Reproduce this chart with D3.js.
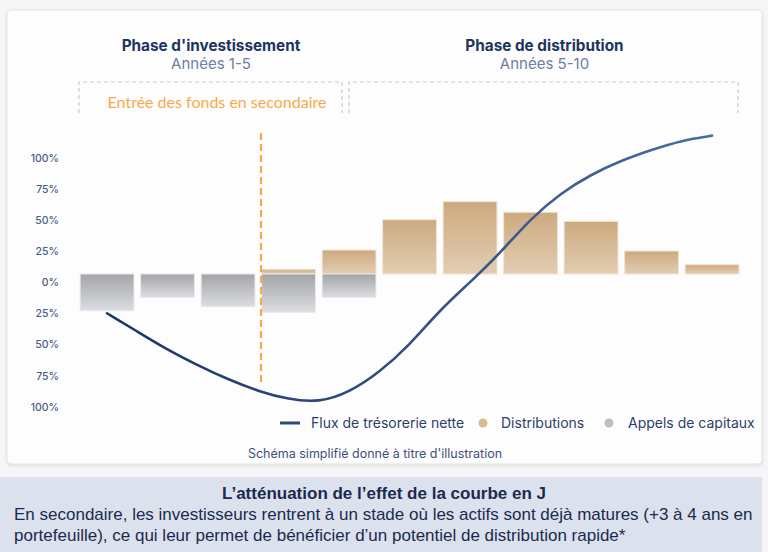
<!DOCTYPE html>
<html><head><meta charset="utf-8">
<script src="https://cdn.jsdelivr.net/npm/d3@7"></script>
<style>
html,body{margin:0;padding:0;background:#f6f6f8;}
svg{display:block;}
</style></head>
<body>
<svg id="chart" width="768" height="552"></svg>
<script>
// ---- data ----
const periods = ["1","2","3","4","5","6","7","8","9","10","11"];
const capitalCalls = [-29.5, -18.8, -26.3, -30.8, -18.8, 0, 0, 0, 0, 0, 0];
const distributions = [0, 0, 0, 3.8, 19.3, 43.7, 58.2, 49.7, 42.4, 18.5, 7.5];
const lineX = [0,0.5,1,1.5,2,2.5,3,3.5,4,4.5,5,5.5,6,6.5,7,7.5,8,8.5,9,9.5,10];
const lineValues = [-31.6,-46.3,-61.0,-73.5,-84.9,-94.4,-101.0,-103.5,-95.4,-79.3,-57.2,-29.0,-6.8,16.9,44.6,65.2,80.1,91.4,100.0,107.6,111.4];
const yTicks = [100,75,50,25,0,-25,-50,-75,-100];
const phases = [
  {title:"Phase d'investissement", years:"Années 1-5"},
  {title:"Phase de distribution", years:"Années 5-10"}
];
const secondaryLabel = "Entrée des fonds en secondaire";
const legendItems = ["Flux de trésorerie nette","Distributions","Appels de capitaux"];
const footnote = "Schéma simplifié donné à titre d'illustration";
const bandTitle = "L’atténuation de l’effet de la courbe en J";
const bandLines = ["En secondaire, les investisseurs rentrent à un stade où les actifs sont déjà matures (+3 à 4 ans en",
                   "portefeuille), ce qui leur permet de bénéficier d’un potentiel de distribution rapide*"];

// ---- setup ----
const svg = d3.select("#chart");
const defs = svg.append("defs");
const sh = defs.append("filter").attr("id","shadow").attr("x","-5%").attr("y","-5%").attr("width","110%").attr("height","110%");
sh.append("feDropShadow").attr("dx",0).attr("dy",1).attr("stdDeviation",1.5).attr("flood-color","#000").attr("flood-opacity",0.12);

function vGrad(id, c1, c2){
  const g = defs.append("linearGradient").attr("id",id).attr("x1",0).attr("y1",0).attr("x2",0).attr("y2",1);
  g.append("stop").attr("offset","0%").attr("stop-color",c1);
  g.append("stop").attr("offset","100%").attr("stop-color",c2);
}
vGrad("gTan","#ccaa7f","#e3cdb2");
vGrad("gGrey","#a3a4a5","#dcdde2");
const lg = defs.append("linearGradient").attr("id","gLine").attr("x1",0).attr("y1",0).attr("x2",1).attr("y2",0);
lg.append("stop").attr("offset","0%").attr("stop-color","#1c3567");
lg.append("stop").attr("offset","100%").attr("stop-color","#4a6c9e");

// card
svg.append("rect").attr("x",7).attr("y",10).attr("width",755).attr("height",454)
  .attr("rx",4).attr("fill","#fdfdfd").attr("stroke","#e2e3e6").attr("stroke-width",1)
  .attr("filter","url(#shadow)");

// bottom band
svg.append("rect").attr("x",0).attr("y",477).attr("width",762).attr("height",75).attr("fill","#dce2ed");

// scales
const x = d3.scaleBand().domain(periods).range([76.8, 742.3]).paddingInner(0.11).paddingOuter(0.055);
const y = d3.scaleLinear().domain([-100,100]).range([398.2,149.8]);
const xl = d3.scaleLinear().domain([0,10])
  .range([x(periods[0]) + x.bandwidth()/2, x(periods[10]) + x.bandwidth()/2]);

// y axis
const yAxis = d3.axisLeft(y).tickValues(yTicks).tickSize(0).tickPadding(0)
  .tickFormat(d => Math.abs(d) + "%");
const ga = svg.append("g").attr("transform","translate(59,8.5)").call(yAxis);
ga.select(".domain").remove();
ga.selectAll("text").attr("font-family","Inter, 'Noto Sans', sans-serif")
  .attr("font-size",10.5).attr("font-weight",500).attr("fill","#4a5c85");

// phase headings
const phaseX = [211, 544.5];
phases.forEach((p,i)=>{
  svg.append("text").attr("x",phaseX[i]).attr("y",51).attr("text-anchor","middle")
    .attr("font-family","Inter, sans-serif").attr("font-weight",700).attr("font-size",15.3)
    .attr("fill","#1e3461").text(p.title);
  svg.append("text").attr("x",phaseX[i]).attr("y",68.5).attr("text-anchor","middle")
    .attr("font-family","Inter, sans-serif").attr("font-weight",400).attr("font-size",15)
    .attr("fill","#6c7fa3").text(p.years);
});

// dashed brackets
[[79,342],[349,738]].forEach(([a,b])=>{
  svg.append("path").attr("d",`M${a},113V82H${b}V113`).attr("fill","none")
    .attr("stroke","#c5cddb").attr("stroke-width",1.2).attr("stroke-dasharray","4,3");
});
svg.append("text").attr("x",217).attr("y",108).attr("text-anchor","middle")
  .attr("font-family","Lato, 'Open Sans', sans-serif").attr("font-size",16)
  .attr("fill","#f9a94b").text(secondaryLabel);

// bars
const distData = periods.map((p,i)=>({p, v:distributions[i]})).filter(d=>d.v>0);
const callData = periods.map((p,i)=>({p, v:capitalCalls[i]})).filter(d=>d.v<0);
const bars = svg.append("g");
bars.selectAll("rect.dist").data(distData).join("rect").attr("class","dist")
  .attr("x",d=>x(d.p)).attr("y",d=>y(d.v)).attr("width",x.bandwidth())
  .attr("height",d=>y(0)-y(d.v))
  .attr("fill","url(#gTan)").attr("stroke","#f1e4d3").attr("stroke-width",1);
bars.selectAll("rect.call").data(callData).join("rect").attr("class","call")
  .attr("x",d=>x(d.p)).attr("y",y(0)).attr("width",x.bandwidth())
  .attr("height",d=>y(d.v)-y(0))
  .attr("fill","url(#gGrey)").attr("stroke","#e8e9ec").attr("stroke-width",1);

// orange dashed line
svg.append("line").attr("x1",261).attr("x2",261).attr("y1",133).attr("y2",385)
  .attr("stroke","#f9a845").attr("stroke-width",2.2).attr("stroke-dasharray","7,4");

// cash-flow line
const line = d3.line().x((d,i)=>xl(lineX[i])).y(d=>y(d)).curve(d3.curveBasis);
svg.append("path").datum(lineValues).attr("d",line).attr("fill","none")
  .attr("stroke","url(#gLine)").attr("stroke-width",2.6).attr("stroke-linecap","round");

// legend
const lgY = 423;
const legFont = "Inter, sans-serif";
svg.append("line").attr("x1",280).attr("x2",300).attr("y1",lgY).attr("y2",lgY)
  .attr("stroke","#2d4a7c").attr("stroke-width",3);
svg.append("circle").attr("cx",483).attr("cy",lgY).attr("r",4.5).attr("fill","#d8ba92");
svg.append("circle").attr("cx",609).attr("cy",lgY).attr("r",4.5).attr("fill","#bfbfc0");
[[311,legendItems[0]],[501,legendItems[1]],[628,legendItems[2]]].forEach(([lx,t])=>{
  svg.append("text").attr("x",lx).attr("y",lgY+5).attr("font-family",legFont)
    .attr("font-size",14).attr("fill","#2c3f6a").text(t);
});
svg.append("text").attr("x",375).attr("y",458).attr("text-anchor","middle")
  .attr("font-family",legFont).attr("font-size",12.5).attr("fill","#3d5080").text(footnote);

// band text
svg.append("text").attr("x",384).attr("y",499).attr("text-anchor","middle")
  .attr("font-family","'Liberation Sans', Arial, sans-serif").attr("font-weight",700)
  .attr("font-size",17).attr("fill","#1b2a4e").text(bandTitle);
bandLines.forEach((t,i)=>{
  svg.append("text").attr("x",14).attr("y",520+i*21)
    .attr("font-family","'Liberation Sans', Arial, sans-serif")
    .attr("font-size",17).attr("fill","#1b2a4e").text(t);
});
</script>
</body></html>
